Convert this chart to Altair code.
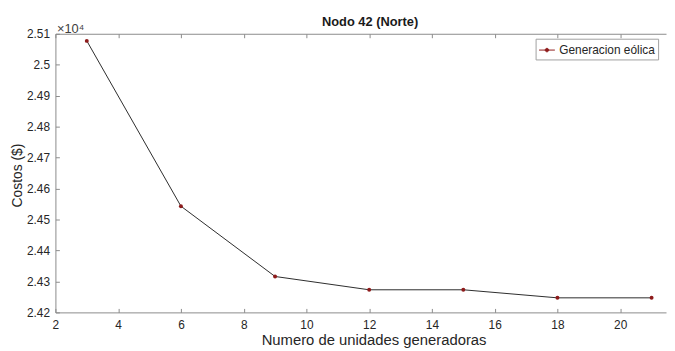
import altair as alt
import pandas as pd

# Data
unidades = [3, 6, 9, 12, 15, 18, 21]
costos = [25077, 24543, 24316, 24273, 24273, 24247, 24247]
serie = "Generacion eólica"
x_ticks = [2, 4, 6, 8, 10, 12, 14, 16, 18, 20]
y_ticks = [24200, 24300, 24400, 24500, 24600, 24700, 24800, 24900, 25000, 25100]
titulo = "Nodo 42 (Norte)"
x_titulo = "Numero de unidades generadoras"
y_titulo = "Costos ($)"
exponente = "×10⁴"

df = pd.DataFrame({"unidades": unidades, "costos": costos, "serie": [serie] * len(unidades)})

FONT = "Liberation Sans"
AX = "#8a8a8a"
TXT = "#262626"

xscale = alt.Scale(domain=[2, 21.46], nice=False, zero=False)
yscale = alt.Scale(domain=[24200, 25100], nice=False, zero=False)

base = alt.Chart(df)

# main line with labelled axes
line = base.mark_line(color="#2b2b2b", strokeWidth=1).encode(
    x=alt.X("unidades:Q", scale=xscale, axis=alt.Axis(
        orient="bottom", values=x_ticks, ticks=False, grid=False, domain=True,
        domainColor=AX, domainWidth=1, labelFlush=False, labelOverlap=False,
        labelFontSize=12, labelColor=TXT, labelPadding=7, labelFont=FONT,
        title=x_titulo, titleFont=FONT, titleFontSize=15, titleFontWeight="normal",
        titleColor=TXT, titleX=322, titleY=33, titleBaseline="alphabetic",
        titleAlign="center")),
    y=alt.Y("costos:Q", scale=yscale, axis=alt.Axis(
        orient="left", values=y_ticks, ticks=False, grid=False, domain=True,
        domainColor=AX, domainWidth=1, labelFlush=False, labelOverlap=False,
        labelExpr="format(datum.value / 10000, '.2~f')",
        labelFontSize=12, labelColor=TXT, labelPadding=6, labelFont=FONT,
        title=y_titulo, titleFont=FONT, titleFontSize=14, titleFontWeight="normal",
        titleColor=TXT, titleX=-34, titleY=143, titleAngle=-90,
        titleBaseline="alphabetic", titleAlign="center")),
)

legend_path = ("M-1,0H1M-0.22,0A0.22,0.22,0,1,0,0.22,0"
               "A0.22,0.22,0,1,0,-0.22,0Z")

points = base.mark_circle(size=16, opacity=1).encode(
    x=alt.X("unidades:Q", scale=xscale, axis=alt.Axis(
        orient="bottom", values=x_ticks, offset=-4, tickSize=4, ticks=True,
        tickColor=AX, tickWidth=1, domain=False, labels=False, grid=False,
        title=None)),
    y=alt.Y("costos:Q", scale=yscale, axis=alt.Axis(
        orient="left", values=y_ticks, offset=-4, tickSize=4, ticks=True,
        tickColor=AX, tickWidth=1, domain=False, labels=False, grid=False,
        title=None)),
    color=alt.Color("serie:N", scale=alt.Scale(range=["#8e1b1b"]), legend=alt.Legend(
        title=None, orient="none", legendX=486, legendY=5,
        symbolType=legend_path, symbolSize=256, symbolStrokeWidth=1,
        symbolStrokeColor="#8e1b1b", symbolFillColor="#8e1b1b",
        labelFont=FONT, labelFontSize=12, labelColor=TXT, labelOffset=4,
        strokeColor="#a0a0a0", fillColor="white", padding=3, cornerRadius=0)),
)

top_frame = base.mark_line(opacity=0).encode(
    x=alt.X("unidades:Q", scale=xscale, axis=alt.Axis(
        orient="top", values=x_ticks, ticks=False, labels=False, grid=False,
        domain=True, domainColor=AX, domainWidth=1,
        title=titulo, titleFont=FONT, titleFontSize=13, titleFontWeight="bold",
        titleColor="#1a1a1a", titleX=318, titleY=-8, titleAlign="center",
        titleBaseline="alphabetic")),
    y=alt.Y("costos:Q", scale=yscale, axis=None),
)

top_ticks = base.mark_line(opacity=0).encode(
    x=alt.X("unidades:Q", scale=xscale, axis=alt.Axis(
        orient="top", values=x_ticks + [22], offset=-4, tickSize=4, ticks=True,
        tickColor=AX, tickWidth=1, labels=False, grid=False, domain=False,
        title=exponente, titleFont=FONT, titleFontSize=13, titleFontWeight="normal",
        titleColor="#404040", titleX=1, titleY=-5, titleAlign="left",
        titleBaseline="alphabetic")),
    y=alt.Y("costos:Q", scale=yscale, axis=None),
)

chart = alt.layer(line, points, top_frame, top_ticks).resolve_axis(
    x="independent", y="independent"
).properties(
    width=618,
    height=282,
    autosize=alt.AutoSizeParams(type="none"),
    padding={"left": 48, "top": 24, "right": 1, "bottom": 37},
    background="white",
).configure_view(stroke=None)

chart.save("out.html", embed_options={"renderer": "svg", "actions": False})
